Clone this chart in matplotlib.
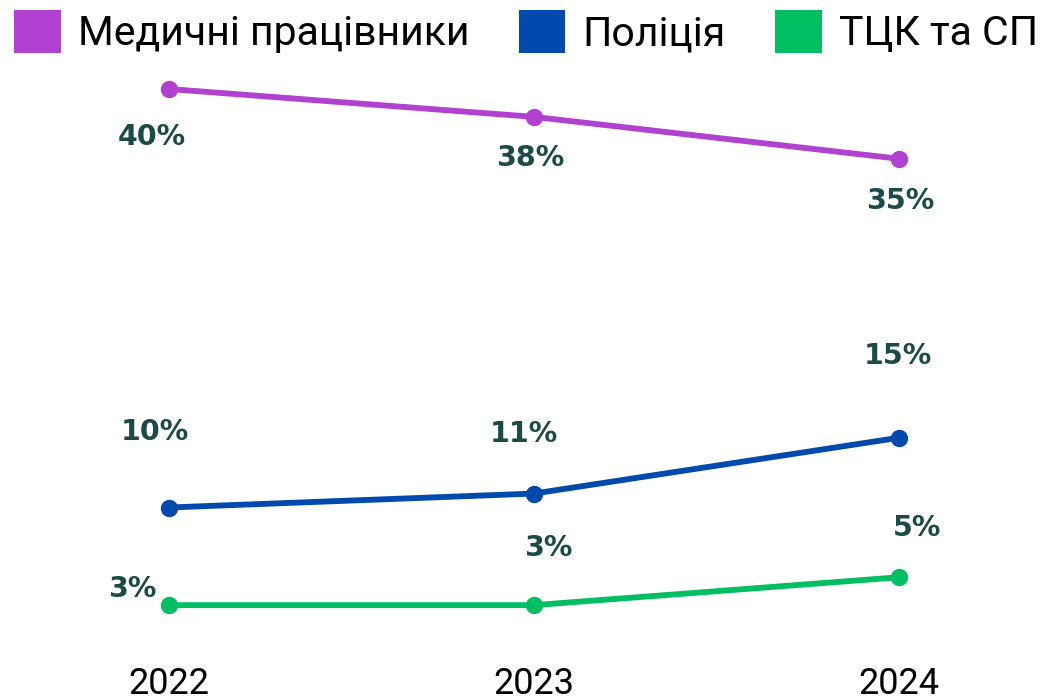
import matplotlib
matplotlib.use("Agg")
import matplotlib.pyplot as plt
from matplotlib.patches import Patch

# дані
years = ["2022", "2023", "2024"]
medychni = [40, 38, 35]
politsiia = [10, 11, 15]
tck = [3, 3, 5]
series_names = ["Медичні працівники", "Поліція", "ТЦК та СП"]

colors = ["#B041D1", "#0049AD", "#00BF63"]
label_color = "#1C4A48"

# зсуви підписів у пікселях (dx, dy) для кожної точки
offsets = [
    [(-17, -48), (-4, -41), (1, -42)],
    [(-14, 75), (-10, 60), (-1, 82)],
    [(-37, 16), (14, 57), (18, 49)],
]

fig = plt.figure(figsize=(10.56, 6.96), dpi=100)
ax = fig.add_axes([0, 36 / 696, 1, 1 - 106 / 696])

x = list(range(len(years)))
for vals, col, offs in zip([medychni, politsiia, tck], colors, offsets):
    ax.plot(x, vals, color=col, lw=4.2, marker="o", ms=11.5, solid_capstyle="round")
    for xi, v, (dx, dy) in zip(x, vals, offs):
        ax.annotate(f"{v}%", (xi, v), xytext=(dx, dy), textcoords="offset pixels",
                    ha="center", va="center", fontsize=20.5, fontweight="bold",
                    color=label_color, family="DejaVu Sans")

ax.set_xlim(-169 / 365, 1056 / 365 - 169 / 365)
ax.set_ylim((647 - 660) / 13.95, (647 - 70) / 13.95)
ax.set_xticks(x)
ax.set_xticklabels(years, fontsize=26, family="Roboto")
ax.set_yticks([])
ax.tick_params(axis="x", length=0, pad=4)
for s in ax.spines.values():
    s.set_visible(False)

handles = [Patch(facecolor=c, edgecolor="none") for c in colors]
fig.legend(handles, series_names, loc="upper left", ncol=3,
           bbox_to_anchor=(14 / 1056, 1 - 10 / 696), borderaxespad=0, borderpad=0,
           frameon=False, prop={"family": "Roboto", "size": 29.5},
           handlelength=1.14, handleheight=1.25, handletextpad=0.42, columnspacing=1.2)

fig.savefig("out.png", dpi=100)
